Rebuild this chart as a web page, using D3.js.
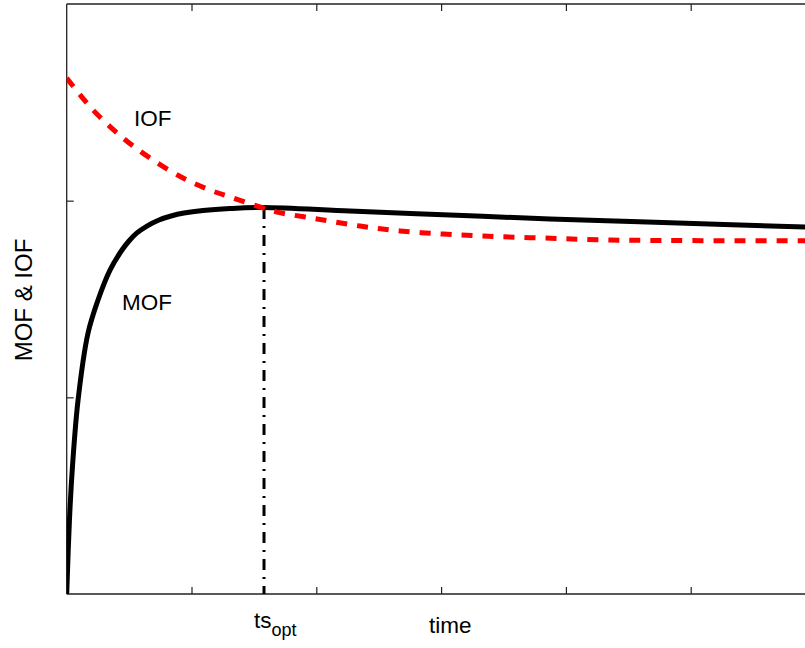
<!DOCTYPE html>
<html><head><meta charset="utf-8">
<script src="https://cdn.jsdelivr.net/npm/d3@7"></script>
<style>body{margin:0;background:#fff}svg{display:block}text{font-family:"Liberation Sans",Arial,sans-serif;fill:#000}</style>
</head><body>
<svg id="chart" width="805" height="648"></svg>
<script>
// Data (time units, value units)
const mofTime  = [0, 0.022, 0.046, 0.091, 0.171, 0.251, 0.347, 0.443, 0.499, 0.563, 0.643, 0.740, 0.836, 0.940, 1.092, 1.309, 1.573, 2.27, 3.071, 3.873, 4.9, 5.95];
const mofValue = [0, 0.376, 0.646, 0.986, 1.327, 1.495, 1.647, 1.749, 1.795, 1.836, 1.871, 1.902, 1.922, 1.937, 1.950, 1.960, 1.965, 1.947, 1.927, 1.907, 1.886, 1.865];
const iofTime  = [0, 0.211, 0.451, 0.667, 0.932, 1.148, 1.332, 1.573, 1.685, 2.006, 2.35, 2.671, 3.016, 3.336, 3.817, 4.354, 5.95];
const iofValue = [2.624, 2.461, 2.319, 2.217, 2.115, 2.054, 2.014, 1.963, 1.942, 1.907, 1.871, 1.846, 1.830, 1.820, 1.810, 1.800, 1.796];
const tsOpt = 1.581;
const tsOptTop = 1.963;
const xTicks = [1, 2, 3, 4, 5];
const yTicks = [1, 2];
const labels = {x: "time", y: "MOF & IOF", mof: "MOF", iof: "IOF", ts: "ts", tsSub: "opt"};

const svg = d3.select("#chart");
const x = d3.scaleLinear().domain([0, 6]).range([66.7, 815.5]);
const y = d3.scaleLinear().domain([0, 3]).range([594, 4]);

const axisColor = "#222";
// frame
svg.append("line").attr("x1", x(0)).attr("x2", 805).attr("y1", y(0)).attr("y2", y(0)).attr("stroke", axisColor).attr("stroke-width", 1.3);
svg.append("line").attr("x1", x(0)).attr("x2", 805).attr("y1", y(3)).attr("y2", y(3)).attr("stroke", axisColor).attr("stroke-width", 1.3);
svg.append("line").attr("x1", x(0)).attr("x2", x(0)).attr("y1", y(0)).attr("y2", y(3)).attr("stroke", axisColor).attr("stroke-width", 1.3);

// ticks via axes (inward, no labels)
const bottomAxis = d3.axisBottom(x).tickValues(xTicks).tickSize(-7).tickFormat("");
const gb = svg.append("g").attr("transform", `translate(0,${y(0)})`).call(bottomAxis);
const topAxis = d3.axisTop(x).tickValues(xTicks).tickSize(-7).tickFormat("");
const gt = svg.append("g").attr("transform", `translate(0,${y(3)})`).call(topAxis);
const leftAxis = d3.axisLeft(y).tickValues(yTicks).tickSize(-7).tickFormat("");
const gl = svg.append("g").attr("transform", `translate(${x(0)},0)`).call(leftAxis);
[gb, gt, gl].forEach(g => {
  g.select(".domain").remove();
  g.selectAll(".tick line").attr("stroke", axisColor).attr("stroke-width", 1.2);
});

// clip
svg.append("clipPath").attr("id", "clip").append("rect")
  .attr("x", x(0)).attr("y", y(3)).attr("width", 805 - x(0)).attr("height", y(0) - y(3));

const mofData = mofTime.map((t, i) => [t, mofValue[i]]);
const iofData = iofTime.map((t, i) => [t, iofValue[i]]);
const line = d3.line().x(d => x(d[0])).y(d => y(d[1])).curve(d3.curveCatmullRom.alpha(0.5));

const plot = svg.append("g").attr("clip-path", "url(#clip)");
// vertical dash-dot line at ts_opt
plot.append("line").attr("x1", x(tsOpt)).attr("x2", x(tsOpt))
  .attr("y1", y(tsOptTop)).attr("y2", y(0))
  .attr("stroke", "#000").attr("stroke-width", 3).attr("stroke-dasharray", "11,7,2,7");
plot.append("path").datum(mofData).attr("d", line)
  .attr("fill", "none").attr("stroke", "#000").attr("stroke-width", 5);
plot.append("path").datum(iofData).attr("d", line)
  .attr("fill", "none").attr("stroke", "#ff0000").attr("stroke-width", 5).attr("stroke-dasharray", "11,10");

// labels
const fs = 22.5;
svg.append("text").attr("x", 134).attr("y", 125.5).attr("font-size", fs).text(labels.iof);
svg.append("text").attr("x", 122).attr("y", 310).attr("font-size", fs).text(labels.mof);
svg.append("text").attr("x", 429).attr("y", 632.5).attr("font-size", fs).text(labels.x);
const ts = svg.append("text").attr("x", 254).attr("y", 628).attr("font-size", fs);
ts.append("tspan").text(labels.ts);
ts.append("tspan").attr("dy", 8).attr("font-size", 18).text(labels.tsSub);
svg.append("text").attr("transform", "translate(32,300) rotate(-90)")
  .attr("text-anchor", "middle").attr("font-size", 24).text(labels.y);
</script>
</body></html>
